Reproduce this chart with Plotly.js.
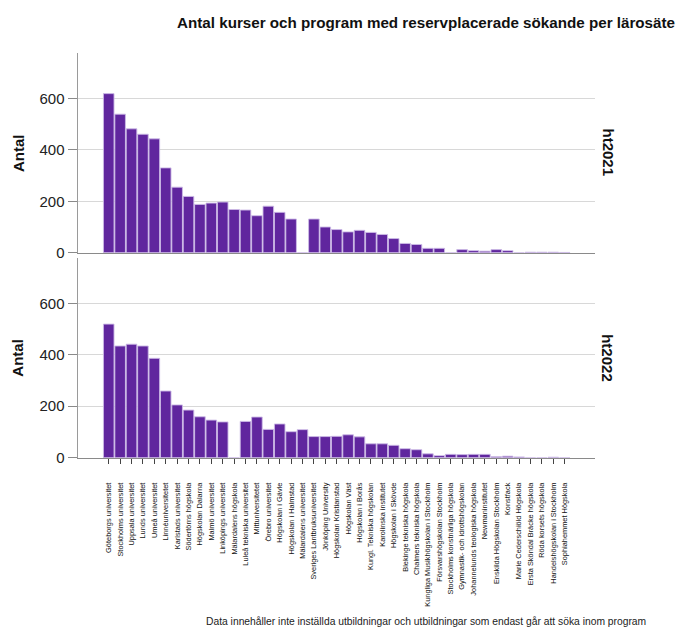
<!DOCTYPE html>
<html>
<head>
<meta charset="utf-8">
<script src="https://cdn.plot.ly/plotly-3.0.1.min.js"></script>
<style>html,body{margin:0;padding:0;background:#fff;}#chart{width:679px;height:628px;}</style>
</head>
<body>
<div id="chart"></div>
<script>
const larosaten = [
  "Göteborgs universitet","Stockholms universitet","Uppsala universitet","Lunds universitet",
  "Umeå universitet","Linnéuniversitetet","Karlstads universitet","Södertörns högskola",
  "Högskolan Dalarna","Malmö universitet","Linköpings universitet","Mälardalens högskola",
  "Luleå tekniska universitet","Mittuniversitetet","Örebro universitet","Högskolan i Gävle",
  "Högskolan i Halmstad","Mälardalens universitet","Sveriges Lantbruksuniversitet","Jönköping University",
  "Högskolan Kristianstad","Högskolan Väst","Högskolan i Borås","Kungl. Tekniska högskolan",
  "Karolinska institutet","Högskolan i Skövde","Blekinge tekniska högskola","Chalmers tekniska högskola",
  "Kungliga Musikhögskolan i Stockholm","Försvarshögskolan Stockholm","Stockholms konstnärliga högskola",
  "Gymnastik- och idrottshögskolan","Johannelunds teologiska högskola","Newmaninstitutet",
  "Enskilda Högskolan Stockholm","Konstfack","Marie Cederschiöld Högskola","Ersta Sköndal Bräcke högskola",
  "Röda korsets högskola","Handelshögskolan i Stockholm","Sophiahemmet Högskola"
];
const ht2021 = [619,539,482,461,443,330,255,219,188,193,197,168,166,144,181,157,131,0,131,100,90,81,87,79,71,55,36,32,17,17,0,12,8,6,12,8,0,2,2,2,1];
const ht2022 = [519,434,441,434,386,259,205,185,159,146,139,0,141,158,110,131,101,109,82,82,83,89,81,54,54,48,35,31,15,8,13,12,13,13,4,6,3,0,0,2,0];
const yTicks = [0,200,400,600];
const panelLabels = ["ht2021","ht2022"];

const barColor = '#60269e';
const barLine = {color:'#cdbbe6', width:0.9};

const traces = [
  {type:'bar', x:larosaten, y:ht2021, xaxis:'x', yaxis:'y', marker:{color:barColor, line:barLine}, hoverinfo:'x+y', showlegend:false},
  {type:'bar', x:larosaten, y:ht2022, xaxis:'x2', yaxis:'y2', marker:{color:barColor, line:barLine}, hoverinfo:'x+y', showlegend:false}
];

const W = 679, H = 628;
const px = v => v / W;
const py = v => 1 - v / H;
const xr = [-2.74, 42.66];
const fontFam = 'Liberation Sans, Arial, sans-serif';

const yBase = {
  range:[0,777], tickvals:yTicks, ticktext:yTicks.map(String), ticks:'outside', ticklen:9, tickcolor:'#8a8a8a',
  showline:true, linecolor:'#9a9a9a', linewidth:1, showgrid:true, gridcolor:'#d8d8d8', gridwidth:1,
  zeroline:false, tickfont:{family:fontFam, size:15, color:'#222'}, automargin:false, fixedrange:true
};
const xBase = {
  type:'category', range:xr, domain:[px(77.5), px(595)], showline:true, linecolor:'#8a8a8a', linewidth:1,
  showgrid:false, zeroline:false, automargin:false, fixedrange:true
};

const layout = {
  width:W, height:H, margin:{l:0,r:0,t:0,b:0}, paper_bgcolor:'#fff', plot_bgcolor:'rgba(0,0,0,0)',
  bargap:0.07, font:{family:fontFam},
  xaxis: Object.assign({}, xBase, {anchor:'y', showticklabels:false, ticks:''}),
  xaxis2: Object.assign({}, xBase, {anchor:'y2', matches:'x', ticks:'outside', ticklen:5, tickcolor:'#444',
    tickangle:-90, ticklabelstandoff:16, tickfont:{family:'Liberation Sans Narrow, Arial Narrow, Liberation Sans, Arial, sans-serif', size:7.4, color:'#111'}}),
  yaxis: Object.assign({}, yBase, {domain:[py(252.7), py(53)], anchor:'x'}),
  yaxis2: Object.assign({}, yBase, {domain:[py(457.7), py(257.7)], anchor:'x2'}),
  annotations: [
    {text:'<b>Antal kurser och program med reservplacerade sökande per lärosäte</b>', xref:'paper', yref:'paper',
     x:px(677), y:py(22.7), xanchor:'right', yanchor:'middle', showarrow:false, font:{family:fontFam, size:15.2, color:'#111'}},
    {text:'<b>Antal</b>', xref:'paper', yref:'paper', x:px(18), y:py(153), xanchor:'center', yanchor:'middle',
     textangle:-90, showarrow:false, font:{family:fontFam, size:15, color:'#111'}},
    {text:'<b>Antal</b>', xref:'paper', yref:'paper', x:px(18), y:py(357.7), xanchor:'center', yanchor:'middle',
     textangle:-90, showarrow:false, font:{family:fontFam, size:15, color:'#111'}},
    {text:'<b>'+panelLabels[0]+'</b>', xref:'paper', yref:'paper', x:px(607.5), y:py(152), xanchor:'center', yanchor:'middle',
     textangle:90, showarrow:false, font:{family:fontFam, size:15, color:'#111'}},
    {text:'<b>'+panelLabels[1]+'</b>', xref:'paper', yref:'paper', x:px(607.5), y:py(357.7), xanchor:'center', yanchor:'middle',
     textangle:90, showarrow:false, font:{family:fontFam, size:15, color:'#111'}},
    {text:'Data innehåller inte inställda utbildningar och utbildningar som endast går att söka inom program', xref:'paper', yref:'paper',
     x:px(426), y:py(621), xanchor:'center', yanchor:'middle', showarrow:false, font:{family:fontFam, size:10.3, color:'#222'}}
  ]
};

Plotly.newPlot('chart', traces, layout, {displayModeBar:false, staticPlot:true});
</script>
</body>
</html>
